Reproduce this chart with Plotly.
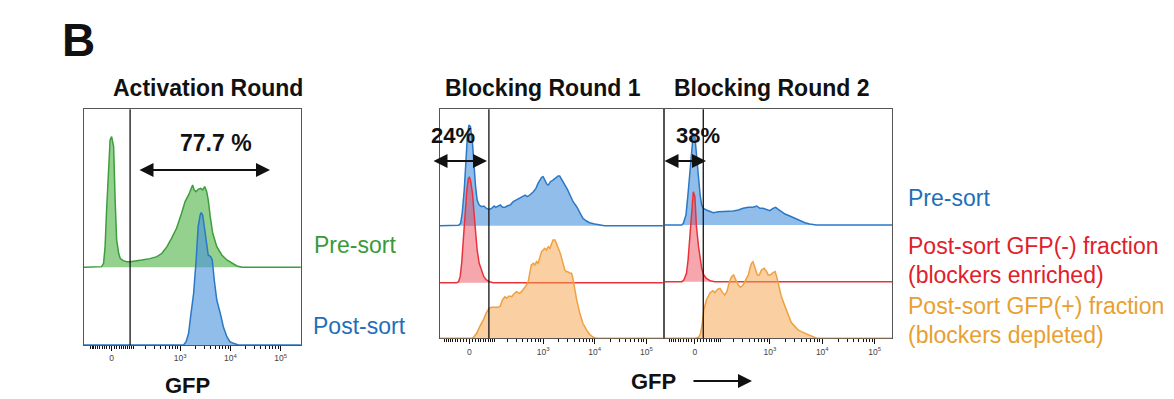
import math
import plotly.graph_objects as go

W, H = 1174, 399
FONT = "Liberation Sans, Arial, sans-serif"

# ---------------- data ----------------
# GFP positions are given in biexponential display units (10^k sits at k);
# counts are per-bin event counts on a common scale within each panel.

# Activation round
act_pre_x = [1.09, 1.44, 1.48, 1.51, 1.54, 1.58, 1.61, 1.64, 1.68, 1.71, 1.74, 1.78, 1.81, 1.87,
             1.94, 2.01, 2.14, 2.24, 2.40, 2.54, 2.64, 2.74, 2.83, 2.93, 3.03, 3.10, 3.17, 3.21,
             3.25, 3.28, 3.32, 3.36, 3.41, 3.45, 3.49, 3.53, 3.56, 3.60, 3.65, 3.73, 3.83, 3.93,
             4.03, 4.13, 4.23, 5.40]
act_pre_count = [0, 2, 12, 62, 172, 302, 382, 392, 362, 202, 82, 42, 27, 20,
                 17, 17, 19, 22, 26, 32, 42, 62, 87, 117, 162, 197, 217, 232,
                 247, 232, 227, 234, 237, 232, 242, 227, 202, 152, 102, 62, 37, 22,
                 12, 4, 0, 0]

act_post_x = [1.09, 3.07, 3.12, 3.17, 3.21, 3.27, 3.32, 3.36, 3.40, 3.42, 3.45, 3.48, 3.52,
              3.56, 3.61, 3.64, 3.68, 3.73, 3.80, 3.86, 3.93, 3.99, 4.06, 4.16, 5.40]
act_post_count = [0, 0, 10, 35, 85, 155, 255, 355, 390, 397, 390, 355, 305,
                  270, 265, 255, 195, 135, 95, 55, 25, 10, 5, 0, 0]

# Blocking round 1
b1_pre_x = [1.00, 1.36, 1.40, 1.43, 1.47, 1.50, 1.53, 1.56, 1.59, 1.63, 1.66, 1.69, 1.72, 1.76,
            1.81, 1.85, 1.90, 1.95, 2.00, 2.05, 2.08, 2.13, 2.17, 2.21, 2.26, 2.30, 2.36, 2.42,
            2.48, 2.55, 2.61, 2.65, 2.69, 2.74, 2.81, 2.86, 2.90, 2.94, 2.97, 3.00, 3.03, 3.07,
            3.10, 3.14, 3.19, 3.25, 3.29, 3.32, 3.37, 3.42, 3.47, 3.52, 3.58, 3.65, 3.71, 3.77,
            3.84, 3.90, 4.00, 4.10, 4.19, 5.32]
b1_pre_count = [0, 1, 7, 37, 107, 197, 267, 302, 297, 247, 177, 117, 77, 62,
                57, 59, 52, 49, 52, 59, 55, 59, 62, 55, 55, 59, 62, 72,
                77, 82, 87, 92, 87, 92, 102, 112, 127, 137, 145, 147, 137, 125,
                122, 132, 137, 145, 149, 149, 137, 122, 109, 92, 72, 57, 37, 22,
                14, 9, 5, 3, 0, 0]

b1_neg_x = [1.00, 1.32, 1.36, 1.39, 1.42, 1.45, 1.48, 1.52, 1.55, 1.57, 1.59, 1.63, 1.66,
            1.69, 1.72, 1.76, 1.81, 1.85, 1.90, 1.96, 2.03, 5.32]
b1_neg_count = [0, 0, 3, 18, 58, 128, 208, 278, 313, 316, 308, 268, 208,
                148, 98, 58, 33, 18, 8, 3, 0, 0]

b1_pos_x = [1.00, 1.61, 1.65, 1.71, 1.77, 1.84, 1.90, 1.95, 2.00, 2.06, 2.13, 2.17, 2.21, 2.26,
            2.29, 2.34, 2.39, 2.43, 2.48, 2.54, 2.58, 2.63, 2.68, 2.71, 2.74, 2.77, 2.81, 2.84,
            2.87, 2.90, 2.94, 2.97, 3.00, 3.03, 3.06, 3.10, 3.13, 3.16, 3.19, 3.23, 3.26, 3.29,
            3.32, 3.35, 3.39, 3.42, 3.45, 3.48, 3.52, 3.55, 3.57, 3.59, 3.65, 3.71, 3.77, 3.84,
            3.90, 3.97, 4.03, 5.32]
b1_pos_count = [0, 0, 3, 15, 35, 55, 77, 90, 93, 93, 93, 97, 115, 125,
                120, 127, 125, 133, 140, 135, 140, 150, 160, 170, 195, 220, 225, 220,
                230, 225, 245, 260, 265, 270, 265, 275, 270, 280, 295, 295, 285, 270,
                260, 245, 225, 205, 200, 200, 195, 195, 185, 165, 115, 75, 45, 25,
                12, 3, 0, 0]

# Blocking round 2
b2_pre_x = [1.00, 1.32, 1.35, 1.40, 1.44, 1.48, 1.51, 1.54, 1.57, 1.60, 1.64, 1.67, 1.70, 1.73,
            1.79, 1.86, 1.92, 2.02, 2.11, 2.21, 2.30, 2.40, 2.49, 2.59, 2.68, 2.75, 2.81, 2.87,
            2.94, 3.00, 3.06, 3.11, 3.16, 3.22, 3.29, 3.38, 3.48, 3.57, 3.67, 3.76, 3.89, 5.33]
b2_pre_count = [0, 0, 5, 30, 95, 175, 235, 275, 265, 205, 135, 90, 60, 50,
                45, 40, 37, 40, 40, 42, 42, 45, 50, 53, 53, 57, 50, 50,
                45, 43, 50, 53, 47, 40, 33, 27, 20, 13, 7, 3, 0, 0]

b2_neg_x = [1.00, 1.32, 1.36, 1.41, 1.44, 1.48, 1.51, 1.54, 1.57, 1.60, 1.64, 1.67, 1.70,
            1.74, 1.79, 1.86, 1.95, 5.33]
b2_neg_count = [0, 0, 5, 25, 65, 145, 225, 270, 255, 165, 105, 65, 40,
                20, 10, 3, 0, 0]

b2_pos_x = [1.00, 1.57, 1.64, 1.68, 1.71, 1.74, 1.79, 1.86, 1.91, 1.95, 2.00, 2.05, 2.10, 2.14,
            2.18, 2.23, 2.27, 2.31, 2.35, 2.40, 2.44, 2.49, 2.54, 2.59, 2.62, 2.65, 2.68, 2.71,
            2.76, 2.80, 2.84, 2.89, 2.94, 2.97, 3.01, 3.06, 3.10, 3.13, 3.18, 3.22, 3.29, 3.35,
            3.41, 3.48, 3.54, 3.60, 3.67, 3.73, 3.79, 3.89, 5.33]
b2_pos_count = [0, 0, 3, 15, 45, 85, 115, 137, 143, 137, 147, 150, 137, 130,
                140, 170, 185, 190, 175, 160, 153, 160, 175, 190, 210, 225, 230, 215,
                190, 190, 205, 210, 200, 190, 190, 197, 200, 185, 155, 125, 95, 70,
                47, 35, 25, 20, 15, 10, 5, 0, 0]

tick_values = [0, 1e3, 1e4, 1e5]
tick_labels = ["0", "10<sup>3</sup>", "10<sup>4</sup>", "10<sup>5</sup>"]

# ---------------- styling ----------------
GREEN, GREEN_FILL = "#3c9e3c", "rgba(60,170,50,0.55)"
BLUE, BLUE_FILL = "#2a78c6", "rgba(70,145,220,0.6)"
RED, RED_FILL = "#e8333c", "rgba(235,60,75,0.45)"
ORANGE, ORANGE_FILL = "#f0a040", "rgba(245,160,70,0.5)"
FRAME = "#555555"
COUNTS_PER_PX = 3.0


def biex(v, zero_pos):
    """Biexponential display position of a GFP value (0 sits at zero_pos)."""
    w = 10 ** zero_pos
    return zero_pos + math.asinh(v / (2 * w)) / math.log(10)


def minor_values():
    vals = []
    for k in range(1, 10):
        vals += [k * 10, -k * 10, k * 100, -k * 100, k * 1000, k * 10000]
    vals = [v for v in vals if v not in (1000, 10000)]
    return vals


# each panel: frame box in px (left, right, top, bottom), display range,
# display position of zero, gate position and the stacked rows (baseline px)
panels = [
    dict(box=(84, 301, 109.3, 345.0), xr=(1.091, 5.404), zero=1.642, gate=2.007,
         rows=[(act_pre_x, act_pre_count, GREEN, GREEN_FILL, 267.3),
               (act_post_x, act_post_count, BLUE, BLUE_FILL, 345.0)]),
    dict(box=(440, 663, 109.3, 338.3), xr=(1.0, 5.323), zero=1.568, gate=1.948,
         rows=[(b1_pre_x, b1_pre_count, BLUE, BLUE_FILL, 225.7),
               (b1_neg_x, b1_neg_count, RED, RED_FILL, 282.7),
               (b1_pos_x, b1_pos_count, ORANGE, ORANGE_FILL, 338.3)]),
    dict(box=(665, 892, 109.3, 338.3), xr=(1.0, 5.330), zero=1.571, gate=1.730,
         rows=[(b2_pre_x, b2_pre_count, BLUE, BLUE_FILL, 225.0),
               (b2_neg_x, b2_neg_count, RED, RED_FILL, 281.7),
               (b2_pos_x, b2_pos_count, ORANGE, ORANGE_FILL, 338.3)]),
]

fig = go.Figure()
layout = {}
shapes = []
yk = 0
for i, p in enumerate(panels):
    xname = "x" if i == 0 else f"x{i + 1}"
    xkey = "xaxis" if i == 0 else f"xaxis{i + 1}"
    left, right, top, bottom = p["box"]
    ydom = [1 - bottom / H, 1 - top / H]
    base_y = None
    for j, (xs, cs, line_c, fill_c, base_px) in enumerate(p["rows"]):
        yk += 1
        yname = "y" if yk == 1 else f"y{yk}"
        ykey = "yaxis" if yk == 1 else f"yaxis{yk}"
        lo = -(bottom - base_px) * COUNTS_PER_PX
        hi = (base_px - top) * COUNTS_PER_PX
        if j == 0:
            base_y = yname
            layout[ykey] = dict(domain=ydom, anchor=xname, range=[lo, hi],
                                showline=True, mirror=True, linecolor=FRAME, linewidth=1.2,
                                showticklabels=False, ticks="", showgrid=False,
                                zeroline=False, fixedrange=True, layer="below traces")
        else:
            layout[ykey] = dict(overlaying=base_y, anchor=xname, range=[lo, hi],
                                visible=False, showgrid=False, zeroline=False, fixedrange=True)
        fig.add_trace(go.Scatter(x=xs, y=cs, xaxis=xname, yaxis=yname, mode="lines",
                                 line=dict(color=line_c, width=1.5), fill="tozeroy",
                                 fillcolor=fill_c, hoverinfo="skip", showlegend=False))

    z = p["zero"]
    layout[xkey] = dict(domain=[left / W, right / W], anchor=base_y, range=list(p["xr"]),
                        showline=True, mirror=True, linecolor=FRAME, linewidth=1.2,
                        showgrid=False, zeroline=False, fixedrange=True, layer="below traces",
                        tickmode="array", tickvals=[biex(v, z) for v in tick_values],
                        ticktext=tick_labels, ticks="outside", ticklen=5, tickwidth=1.2,
                        tickcolor="#111", tickfont=dict(family=FONT, size=8.5, color="#444"),
                        minor=dict(tickmode="array", tickvals=[biex(v, z) for v in minor_values()],
                                   ticks="outside", ticklen=3, tickwidth=1, tickcolor="#111",
                                   showgrid=False))
    shapes.append(dict(type="line", xref=xname, yref=f"{base_y} domain", x0=p["gate"],
                       x1=p["gate"], y0=0, y1=1, layer="above",
                       line=dict(color="#111", width=1.3)))


def px_x(v):
    return v / W


def px_y(v):
    return 1 - v / H


annotations = []


def text(s, x, y, size, color="#111", bold=False, xanchor="center"):
    annotations.append(dict(text=f"<b>{s}</b>" if bold else s, x=px_x(x), y=px_y(y),
                            xref="paper", yref="paper", showarrow=False, xanchor=xanchor,
                            yanchor="middle", font=dict(family=FONT, size=size, color=color)))


def arrow(x_tip, x_tail, y, both=True):
    annotations.append(dict(text="", x=px_x(x_tip), y=px_y(y), xref="paper", yref="paper",
                            ax=x_tail - x_tip, ay=0, axref="pixel", ayref="pixel",
                            showarrow=True, arrowhead=2, arrowsize=1.4, arrowwidth=2,
                            arrowcolor="#111", arrowside="end+start" if both else "end",
                            standoff=0, startstandoff=0))


text("B", 60, 40, 46, bold=True, xanchor="left")
text("Activation Round", 208, 88, 23, bold=True)
text("Blocking Round 1", 543, 88, 23, bold=True)
text("Blocking Round 2", 772, 88, 23, bold=True)
text("77.7 %", 216, 143, 23, bold=True)
text("24%", 453, 135, 22, bold=True)
text("38%", 698, 135, 22, bold=True)
text("GFP", 187, 385, 22, bold=True)
text("GFP", 653, 381, 22, bold=True)

text("Pre-sort", 312, 245, 23, color="#3a9a3a", xanchor="left")
text("Post-sort", 311, 326, 23, color="#1f6fb8", xanchor="left")
text("Pre-sort", 906, 198, 23, color="#1f6fb8", xanchor="left")
text("Post-sort GFP(-) fraction", 906, 246, 23, color="#e0202a", xanchor="left")
text("(blockers enriched)", 906, 275, 23, color="#e0202a", xanchor="left")
text("Post-sort GFP(+) fraction", 906, 306, 23, color="#e8a030", xanchor="left")
text("(blockers depleted)", 906, 335, 23, color="#e8a030", xanchor="left")

arrow(270, 138, 170)
arrow(487, 432, 161)
arrow(706, 663, 161)
arrow(752, 692, 381, both=False)

fig.update_layout(width=W, height=H, margin=dict(l=0, r=0, t=0, b=0),
                  paper_bgcolor="white", plot_bgcolor="white", showlegend=False,
                  shapes=shapes, annotations=annotations, **layout)

fig.write_html("out.html", config={"displayModeBar": False})
